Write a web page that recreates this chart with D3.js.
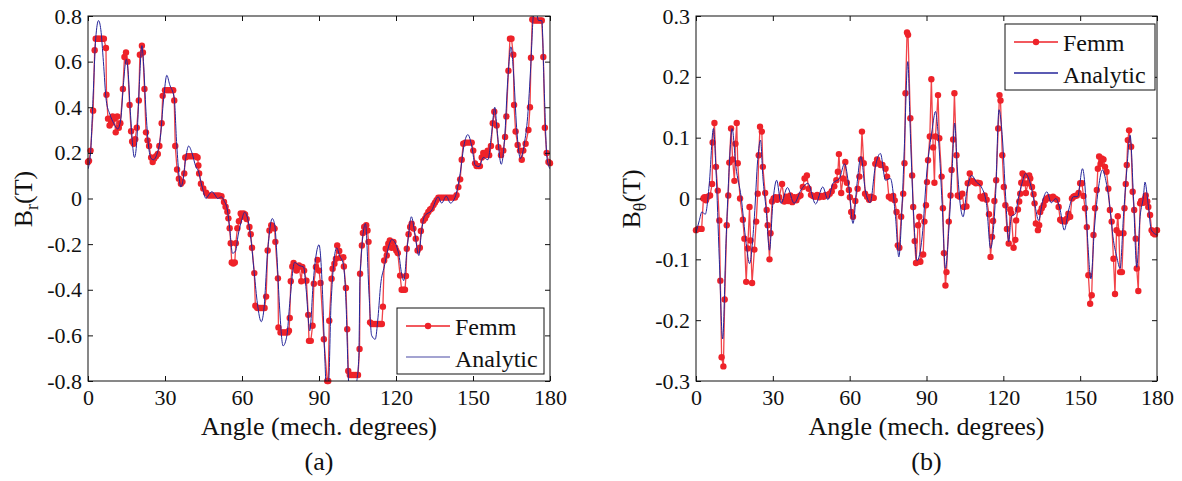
<!DOCTYPE html>
<html>
<head>
<meta charset="utf-8">
<script src="https://cdn.jsdelivr.net/npm/d3@7"></script>
<style>
  body { margin: 0; background: #fff; }
</style>
</head>
<body>
<script>
// tick labels
const angleTicks = [0, 30, 60, 90, 120, 150, 180];
const brTicks = [-0.8, -0.6, -0.4, -0.2, 0, 0.2, 0.4, 0.6, 0.8];
const btTicks = [-0.3, -0.2, -0.1, 0, 0.1, 0.2, 0.3];

// (a) radial flux density, Femm samples
const femmBrAngle = [0,0.4,1,2,2.6,3,3.6,4.2,4.8,5.5,6.2,7,7.2,7.8,8.4,9,9.6,10.2,10.8,11.4,12,12.6,13.6,14.2,14.8,15.4,16.2,16.8,17.2,17.8,18.4,19,19.8,20.2,21,21.4,22,22.6,23.2,23.8,24.6,25.2,25.8,26.5,27.2,27.8,28.7,29.1,30,30.8,31.6,32.4,33.2,33.6,34,34.7,35.4,36.2,36.8,37.5,37.9,38.8,39.6,40.4,41.2,42,42.7,43,43.3,44,44.9,46,47,48,49,50,51,52,53,53.6,54.3,54.7,55.2,55.6,56,56.6,57.2,57.6,58.2,58.8,59.5,60,60.6,61.2,61.8,62.9,63.4,63.9,64.8,65.2,65.9,66.6,67.3,68,68.8,69.4,70,70.7,71.4,72,72.7,73,74,74.2,75,75.7,76.4,77.1,77.8,78.3,78.6,79,79.6,80.1,80.9,81.2,81.8,82.2,83.1,83.5,84.2,85.1,85.8,86.1,86.8,87.5,88,88.8,89.4,90,90.6,91.9,93.2,93.6,94,94.9,95.3,96,96.6,97.1,97.9,98.4,99.5,99.7,100.5,101,101.4,102,102.8,103.6,104.4,105.2,105.8,106,106.7,107.1,107.6,108.4,108.9,109.3,109.9,110.6,111.4,112.2,113,113.8,114.5,114.9,115.4,116,116.4,117,117.6,118.3,119,119.7,120.1,120.7,121.6,122.2,122.9,123.5,123.9,124.2,124.9,125.5,126.1,126.8,127.7,128.4,129.3,129.7,130.6,131.3,131.9,132.6,133.3,133.9,134.6,135.2,135.8,136.5,137.3,138.1,138.9,139.7,140.5,141.3,142.2,143,143.6,144.3,145,145.6,146.2,147,147.8,148.7,149.5,150.1,150.8,151.4,152.1,152.7,153.4,154,154.7,155.7,156.3,157,157.7,158.3,159.2,159.9,160.9,161.8,162.5,163,163.8,164.4,165,165.7,166,166.6,167.4,168.3,169,169.6,170.5,171.6,172.2,172.6,173.1,173.8,174.6,175.4,176.2,176.8,177.4,178,178.7,179.4,180];
const femmBrValue = [0.16,0.165,0.21,0.385,0.65,0.70,0.70,0.70,0.70,0.70,0.70,0.66,0.455,0.35,0.32,0.33,0.36,0.35,0.29,0.36,0.31,0.33,0.48,0.62,0.64,0.60,0.41,0.295,0.25,0.24,0.26,0.31,0.43,0.63,0.67,0.64,0.48,0.29,0.255,0.23,0.18,0.16,0.175,0.185,0.195,0.23,0.33,0.45,0.475,0.475,0.475,0.475,0.475,0.43,0.23,0.127,0.087,0.065,0.073,0.11,0.18,0.185,0.185,0.185,0.185,0.185,0.18,0.145,0.11,0.065,0.044,0.025,0.013,0.013,0.013,0.013,0.013,0.01,-0.015,-0.036,-0.058,-0.087,-0.13,-0.196,-0.28,-0.285,-0.28,-0.196,-0.13,-0.1,-0.066,-0.08,-0.066,-0.07,-0.09,-0.125,-0.157,-0.216,-0.327,-0.47,-0.48,-0.48,-0.48,-0.48,-0.48,-0.43,-0.228,-0.14,-0.117,-0.125,-0.132,-0.19,-0.35,-0.565,-0.587,-0.587,-0.587,-0.587,-0.587,-0.58,-0.524,-0.363,-0.298,-0.283,-0.298,-0.316,-0.30,-0.294,-0.363,-0.30,-0.316,-0.36,-0.51,-0.624,-0.624,-0.558,-0.374,-0.30,-0.269,-0.316,-0.37,-0.617,-0.8,-0.8,-0.536,-0.352,-0.308,-0.286,-0.264,-0.206,-0.23,-0.26,-0.257,-0.298,-0.392,-0.573,-0.756,-0.774,-0.774,-0.774,-0.774,-0.774,-0.66,-0.33,-0.206,-0.151,-0.125,-0.117,-0.14,-0.19,-0.543,-0.55,-0.55,-0.55,-0.55,-0.55,-0.55,-0.474,-0.272,-0.22,-0.25,-0.198,-0.184,-0.216,-0.19,-0.216,-0.228,-0.24,-0.338,-0.4,-0.4,-0.4,-0.34,-0.22,-0.157,-0.125,-0.11,-0.132,-0.176,-0.228,-0.216,-0.142,-0.098,-0.088,-0.073,-0.059,-0.048,-0.044,-0.029,-0.018,-0.007,0.004,0.004,0.004,0.004,0.004,0.004,0.004,0.004,0.004,0.015,0.05,0.084,0.17,0.24,0.245,0.245,0.245,0.245,0.21,0.154,0.142,0.142,0.142,0.18,0.2,0.19,0.21,0.19,0.23,0.33,0.38,0.32,0.225,0.19,0.21,0.27,0.36,0.56,0.70,0.70,0.63,0.41,0.294,0.235,0.21,0.17,0.21,0.24,0.30,0.40,0.617,0.785,0.78,0.78,0.78,0.78,0.78,0.62,0.31,0.2,0.16,0.155];

// (a) analytic solution
const anaBrAngle = [0,1,2,3,4.1,5,6,7.1,8.5,10,11.6,12.8,13.8,14.9,15.6,16.5,18.1,19,20,21,21.6,22.6,23.5,24.6,25.5,27,28,29.5,30.7,31.8,33.6,34.5,36.2,37,38,39.2,40.5,42,43,44.5,46,47,48.3,49.5,50.5,52,53,54.3,55.2,56.3,57.5,58.5,60,61,62,63.5,64.8,66,67.5,68.5,70,71.8,72.8,73.5,74.5,76,77.5,78.6,80.5,82.3,84,85,86.4,87.8,88.5,90,91.4,92.2,93,93.8,94.7,96.9,98,99.5,100.5,101.5,102.5,103.5,104.5,105.5,106,108.1,109.5,110.5,111.9,113,114,115.4,118.4,121,122.2,123,124.5,126,127.3,128.9,129.8,131,134,136.4,137.8,139.6,141.2,143,145,146.6,148,149.5,150.9,152.4,154,155.8,157.2,158.5,159.3,161,162.3,163.6,164.8,165.8,167,168.5,170,171.3,172.5,173.5,174.4,175.5,176.8,177.8,178.8,180];
const anaBrValue = [0.13,0.2,0.45,0.70,0.78,0.74,0.6,0.43,0.37,0.33,0.305,0.35,0.5,0.61,0.56,0.38,0.18,0.25,0.5,0.67,0.6,0.38,0.24,0.175,0.17,0.2,0.25,0.44,0.54,0.5,0.44,0.25,0.05,0.08,0.17,0.23,0.2,0.14,0.12,0.05,0.0,0.015,0.03,0.015,0.0,0.007,-0.01,-0.05,-0.13,-0.24,-0.23,-0.16,-0.09,-0.06,-0.08,-0.18,-0.33,-0.46,-0.54,-0.49,-0.23,-0.088,-0.12,-0.23,-0.45,-0.646,-0.6,-0.46,-0.28,-0.294,-0.3,-0.4,-0.58,-0.36,-0.28,-0.203,-0.42,-0.68,-0.85,-0.8,-0.46,-0.216,-0.25,-0.29,-0.45,-0.8,-0.9,-0.9,-0.82,-0.7,-0.34,-0.11,-0.42,-0.6,-0.617,-0.52,-0.38,-0.3,-0.18,-0.24,-0.33,-0.36,-0.2,-0.08,-0.15,-0.25,-0.16,-0.08,-0.05,0.007,-0.02,0.01,-0.02,0.005,0.11,0.24,0.28,0.23,0.145,0.14,0.18,0.17,0.28,0.40,0.31,0.15,0.26,0.53,0.665,0.55,0.31,0.175,0.24,0.36,0.58,0.8,0.84,0.78,0.78,0.46,0.18,0.13];

// (b) tangential flux density, Femm samples
const femmBtAngle = [0,0.8,1.5,2.2,2.9,3.3,3.9,4.6,5.5,6.3,6.5,7.2,7.8,8.5,9.1,9.5,10,10.7,11.2,12,12.6,13,13.7,14.3,15,15.4,15.9,16.3,17.2,18.3,18.9,19.6,20.2,20.9,21.3,21.9,22.8,23.5,24.1,24.5,25,25.7,26.1,27,27.6,28,28.7,29.1,29.7,30.3,31,31.7,32.5,33.6,34.5,35.2,36,36.8,37.6,38.4,39.2,40,40.8,41.7,42.4,43.3,44,44.9,45.7,46.5,47.3,48.1,49,49.8,50.6,51.4,52.2,53,54,54.8,55.4,55.8,56.7,57.4,58.3,58.9,59.7,60.1,60.6,61.3,62.2,63.1,63.8,64.4,64.8,65.5,66,66.8,67.6,68.4,69.4,70,70.7,71.4,72.1,72.8,74,74.6,75.3,76.2,77,77.6,78.3,78.8,79.4,80.1,80.9,81.4,81.8,82.4,82.8,83.7,84.4,84.8,85.4,85.9,86.7,87.2,87.6,88.7,89.2,89.8,90.2,90.6,91.3,91.9,92.6,93.1,93.5,94.5,95,95.9,96.4,96.8,97.4,97.8,98.7,99.4,99.8,100.4,100.9,101.7,102.2,103,104,104.6,105.6,106.1,106.9,107.8,108.5,109.3,110,110.8,111.1,111.8,112.7,113.5,114.4,115,115.6,116,116.5,117.2,118,118.5,118.9,119.6,120.2,120.8,121.4,122.1,122.7,123.1,124,124.7,125,125.7,126.2,126.6,127,127.5,127.9,128.3,128.8,129.6,130.1,130.5,131.2,131.8,132.2,132.7,133.5,134,134.4,135,135.7,136.4,137,137.8,138.6,139.4,140.2,141,141.6,142.2,142.9,143.5,144.1,144.8,145.4,146.1,146.8,147.4,148,148.7,149.4,150,150.7,151.3,151.9,152.6,153.2,153.9,154.5,155.2,155.8,156.5,156.9,157.4,158,158.4,159.1,159.7,160.3,161,161.6,162.3,163,163.6,164.2,164.7,165.1,165.6,166.3,166.9,167.3,167.8,168.2,168.6,169.1,169.9,170.5,171.1,171.7,172.1,172.7,173.4,173.8,174.3,174.7,175.3,175.6,176.2,176.6,177.3,177.9,178.5,179.2,180];
const femmBtValue = [-0.052,-0.05,-0.05,-0.05,0.0,0.002,-0.003,0.003,0.005,0.024,0.092,0.124,0.052,0.013,-0.036,-0.135,-0.261,-0.276,-0.166,-0.044,0.005,0.059,0.115,0.064,0.029,0.09,0.124,0.058,0,-0.035,-0.066,-0.137,-0.082,-0.014,-0.069,-0.139,-0.084,-0.038,0.008,0.071,0.118,0.11,0.052,0.009,-0.019,-0.044,-0.1,-0.057,-0.005,0,0.002,-0.002,0.002,0.024,-0.005,0.003,-0.004,0.005,-0.006,0.002,-0.003,0.003,0.005,0.019,0.033,0.038,0.016,0.006,0.004,0.003,0.006,0.002,0.004,0.003,0.006,0.005,0.008,0.012,0.02,0.03,0.044,0.073,0.009,0.033,0.06,0.026,0.014,0.002,-0.022,-0.03,-0.004,0.016,0.036,0.064,0.11,0.058,0.008,0.003,-0.002,0.003,0.001,0.057,0.064,0.058,0.055,0.055,0.049,0.036,0.003,0,0.004,-0.003,-0.022,-0.077,-0.081,-0.03,0.008,0.058,0.173,0.273,0.269,0.132,0.038,-0.014,-0.07,-0.106,-0.044,-0.03,-0.104,-0.092,-0.038,-0.011,0.027,0.063,0.102,0.196,0.084,0.026,0.102,0.17,0.099,0.036,-0.016,-0.09,-0.143,-0.121,-0.038,0.005,0.047,0.097,0.173,0.071,0.005,0.003,0.008,-0.014,-0.013,0.025,0.041,0.029,0.027,0.025,0.026,0.025,0.003,0,0.005,-0.002,-0.026,-0.096,-0.063,-0.037,-0.004,0.03,0.115,0.17,0.161,0.071,0.019,-0.011,-0.05,-0.074,-0.018,-0.024,-0.081,-0.068,-0.036,-0.018,-0.005,0.008,0.026,0.041,0.025,0.038,0.009,0.025,0.038,0.033,0.019,0.007,-0.008,-0.041,-0.052,-0.044,-0.022,-0.016,-0.011,-0.003,0,0.002,0,0.003,0,-0.002,-0.014,-0.035,-0.037,-0.036,-0.038,-0.033,-0.025,-0.03,0,0.003,0.004,0.005,0.009,0.025,0.025,0.004,-0.016,-0.047,-0.126,-0.173,-0.159,-0.06,-0.016,0.014,0.049,0.069,0.057,0.066,0.064,0.052,0.044,0.016,-0.019,-0.038,-0.099,-0.157,-0.052,-0.029,-0.057,-0.121,-0.121,-0.057,-0.016,0.024,0.055,0.096,0.112,0.085,0.011,-0.019,-0.066,-0.115,-0.152,-0.008,-0.004,-0.005,-0.007,0,0.005,-0.005,-0.014,-0.027,-0.052,-0.057,-0.059,-0.052];

// (b) analytic solution
const anaBtAngle = [0,1.3,2.3,3.6,5.2,6.8,7.8,9.1,10.4,11.7,12.8,14.1,15.6,17.6,19.6,20.9,22.8,24.1,25.2,26.1,27.4,28.7,30,31.5,33.2,35.7,38.3,41,43.7,46.7,49.5,51.5,53.5,56,58,59.7,61.3,62.9,64.4,66.1,68,70,72,74,75.9,77.9,79.2,80.5,81.4,82.7,83.7,85,86.3,88.3,90.2,92.2,93.5,94.8,96.1,97.4,98.7,100,101,102,103.3,104.3,105.6,107.6,109.5,111.4,113.4,115,117,118.3,119.6,120.9,122.1,123.1,124.7,126,127.3,128.6,130.5,132.2,133.8,135.3,137,138.7,140.5,142.2,143.8,145.5,147.4,149,150.9,151.9,153,154.2,155.6,157.2,158.7,160,161.3,163,164.3,165.6,166.9,168.2,169.5,170.8,172.1,173.4,174.7,175.3,176.5,177.8,180];
const anaBtValue = [-0.057,-0.036,-0.022,-0.026,0.025,0.115,0.048,-0.1,-0.231,-0.074,0.036,0.115,0.052,0.003,-0.074,-0.107,-0.03,0.064,0.096,0.036,-0.019,-0.085,-0.008,0.03,-0.008,0.018,-0.008,0.014,0.025,-0.009,0.019,-0.002,0.025,0.033,0.057,0.019,-0.041,0.025,0.069,0.014,-0.007,0.052,0.074,0.03,0.033,-0.03,-0.096,-0.008,0.09,0.225,0.107,-0.03,-0.102,-0.063,0.047,0.113,0.143,0.091,-0.008,-0.115,-0.052,0.047,0.124,0.052,-0.014,-0.03,0.008,0.038,0.027,0.019,-0.008,-0.082,0.008,0.146,0.101,0.003,-0.071,-0.03,-0.025,0.003,0.025,0.041,0.025,-0.008,-0.036,-0.005,0.011,-0.007,0,-0.019,-0.052,-0.019,0.003,0.003,0.049,0.019,-0.074,-0.132,-0.047,0.019,0.047,0.03,-0.003,-0.069,-0.096,-0.115,-0.03,0.047,0.104,0.003,-0.113,-0.03,0.003,0.027,-0.008,-0.052,-0.06];

const width = 1182;
const height = 481;
const red = "#ee2229";
const blue = "#24249a";
const ink = "#111";
const serif = "'Liberation Serif', 'Times New Roman', Times, serif";

const svg = d3.select("body").append("svg")
    .attr("width", width)
    .attr("height", height)
    .attr("font-family", serif);

function panel(cfg) {
  const x = d3.scaleLinear().domain([0, 180]).range([cfg.left, cfg.right]);
  const y = d3.scaleLinear().domain(cfg.yDomain).range([381, 16]);
  const g = svg.append("g");

  g.append("clipPath").attr("id", cfg.id)
    .append("rect")
      .attr("x", cfg.left).attr("y", 16)
      .attr("width", cfg.right - cfg.left).attr("height", 365);

  const femm = cfg.femmAngle.map((a, i) => [a, cfg.femmValue[i]]);
  const ana = cfg.anaAngle.map((a, i) => [a, cfg.anaValue[i]]);

  g.append("path")
      .datum(femm)
      .attr("clip-path", `url(#${cfg.id})`)
      .attr("fill", "none")
      .attr("stroke", red)
      .attr("stroke-width", 1.3)
      .attr("stroke-opacity", 0.85)
      .attr("d", d3.line().x(d => x(d[0])).y(d => y(d[1])));

  g.append("g")
    .selectAll("circle")
    .data(femm)
    .join("circle")
      .attr("cx", d => x(d[0]))
      .attr("cy", d => y(d[1]))
      .attr("r", 3.2)
      .attr("fill", red);

  g.append("path")
      .datum(ana)
      .attr("clip-path", `url(#${cfg.id})`)
      .attr("fill", "none")
      .attr("stroke", blue)
      .attr("stroke-width", 1)
      .attr("d", d3.line().curve(d3.curveMonotoneX).x(d => x(d[0])).y(d => y(d[1])));

  // axes, ticks pointing inward
  const style = g => {
    g.attr("font-family", serif).attr("font-size", 22);
    g.selectAll("text").attr("fill", ink);
    g.selectAll(".tick line").attr("stroke", ink);
    g.select(".domain").remove();
  };

  g.append("g")
      .attr("transform", "translate(0,381)")
      .call(d3.axisBottom(x).tickValues(angleTicks).tickSizeInner(-5).tickSizeOuter(0).tickPadding(8).tickFormat(d3.format("d")))
      .call(style);
  g.append("g")
      .attr("transform", "translate(0,16)")
      .call(d3.axisTop(x).tickValues(angleTicks).tickSizeInner(-5).tickSizeOuter(0).tickFormat(""))
      .call(style);
  g.append("g")
      .attr("transform", `translate(${cfg.left},0)`)
      .call(d3.axisLeft(y).tickValues(cfg.yTicks).tickSizeInner(-5).tickSizeOuter(0).tickPadding(6).tickFormat(d => d === 0 ? "0" : String(d)))
      .call(style);
  g.append("g")
      .attr("transform", `translate(${cfg.right},0)`)
      .call(d3.axisRight(y).tickValues(cfg.yTicks).tickSizeInner(-5).tickSizeOuter(0).tickFormat(""))
      .call(style);

  g.append("rect")
      .attr("x", cfg.left).attr("y", 16)
      .attr("width", cfg.right - cfg.left).attr("height", 365)
      .attr("fill", "none")
      .attr("stroke", ink)
      .attr("stroke-width", 1);

  const cx = (cfg.left + cfg.right) / 2;
  g.append("text")
      .attr("x", cx).attr("y", 435)
      .attr("text-anchor", "middle")
      .attr("font-family", serif)
      .attr("font-size", 26)
      .attr("fill", ink)
      .text("Angle (mech. degrees)");
  g.append("text")
      .attr("x", cx).attr("y", 470)
      .attr("text-anchor", "middle")
      .attr("font-family", serif)
      .attr("font-size", 26)
      .attr("fill", ink)
      .text(cfg.caption);

  const yl = g.append("text")
      .attr("transform", `translate(${cfg.labelX},199) rotate(-90)`)
      .attr("text-anchor", "middle")
      .attr("font-family", serif)
      .attr("font-size", 26)
      .attr("fill", ink);
  yl.append("tspan").text("B");
  yl.append("tspan").attr("dy", 6).attr("font-size", 18).text(cfg.sub);
  yl.append("tspan").attr("dy", -6).text("(T)");

  // legend
  const L = cfg.legend;
  const lg = g.append("g")
      .attr("transform", `translate(${L.x},${L.y})`)
      .attr("font-family", serif);
  lg.append("rect")
      .attr("width", L.w).attr("height", 66)
      .attr("fill", "#fff")
      .attr("stroke", ink);
  lg.append("line")
      .attr("x1", 9).attr("x2", 53).attr("y1", 18).attr("y2", 18)
      .attr("stroke", red).attr("stroke-width", 1.3);
  lg.append("circle").attr("cx", 31).attr("cy", 18).attr("r", 3.2).attr("fill", red);
  lg.append("line")
      .attr("x1", 9).attr("x2", 53).attr("y1", 49).attr("y2", 49)
      .attr("stroke", L.anaColor).attr("stroke-width", 1.3);
  lg.append("text").attr("x", 58).attr("y", 27).attr("font-size", 24).attr("fill", ink).text("Femm");
  lg.append("text").attr("x", 58).attr("y", 59).attr("font-size", 24).attr("fill", ink).text("Analytic");
}

panel({
  id: "clipA", left: 88, right: 550, yDomain: [-0.8, 0.8], yTicks: brTicks,
  femmAngle: femmBrAngle, femmValue: femmBrValue,
  anaAngle: anaBrAngle, anaValue: anaBrValue,
  caption: "(a)", sub: "r", labelX: 32,
  legend: {x: 397, y: 308, w: 147, anaColor: "#8585c2"}
});

panel({
  id: "clipB", left: 696, right: 1157, yDomain: [-0.3, 0.3], yTicks: btTicks,
  femmAngle: femmBtAngle, femmValue: femmBtValue,
  anaAngle: anaBtAngle, anaValue: anaBtValue,
  caption: "(b)", sub: "θ", labelX: 640,
  legend: {x: 1005, y: 24, w: 150, anaColor: blue}
});
</script>
</body>
</html>
